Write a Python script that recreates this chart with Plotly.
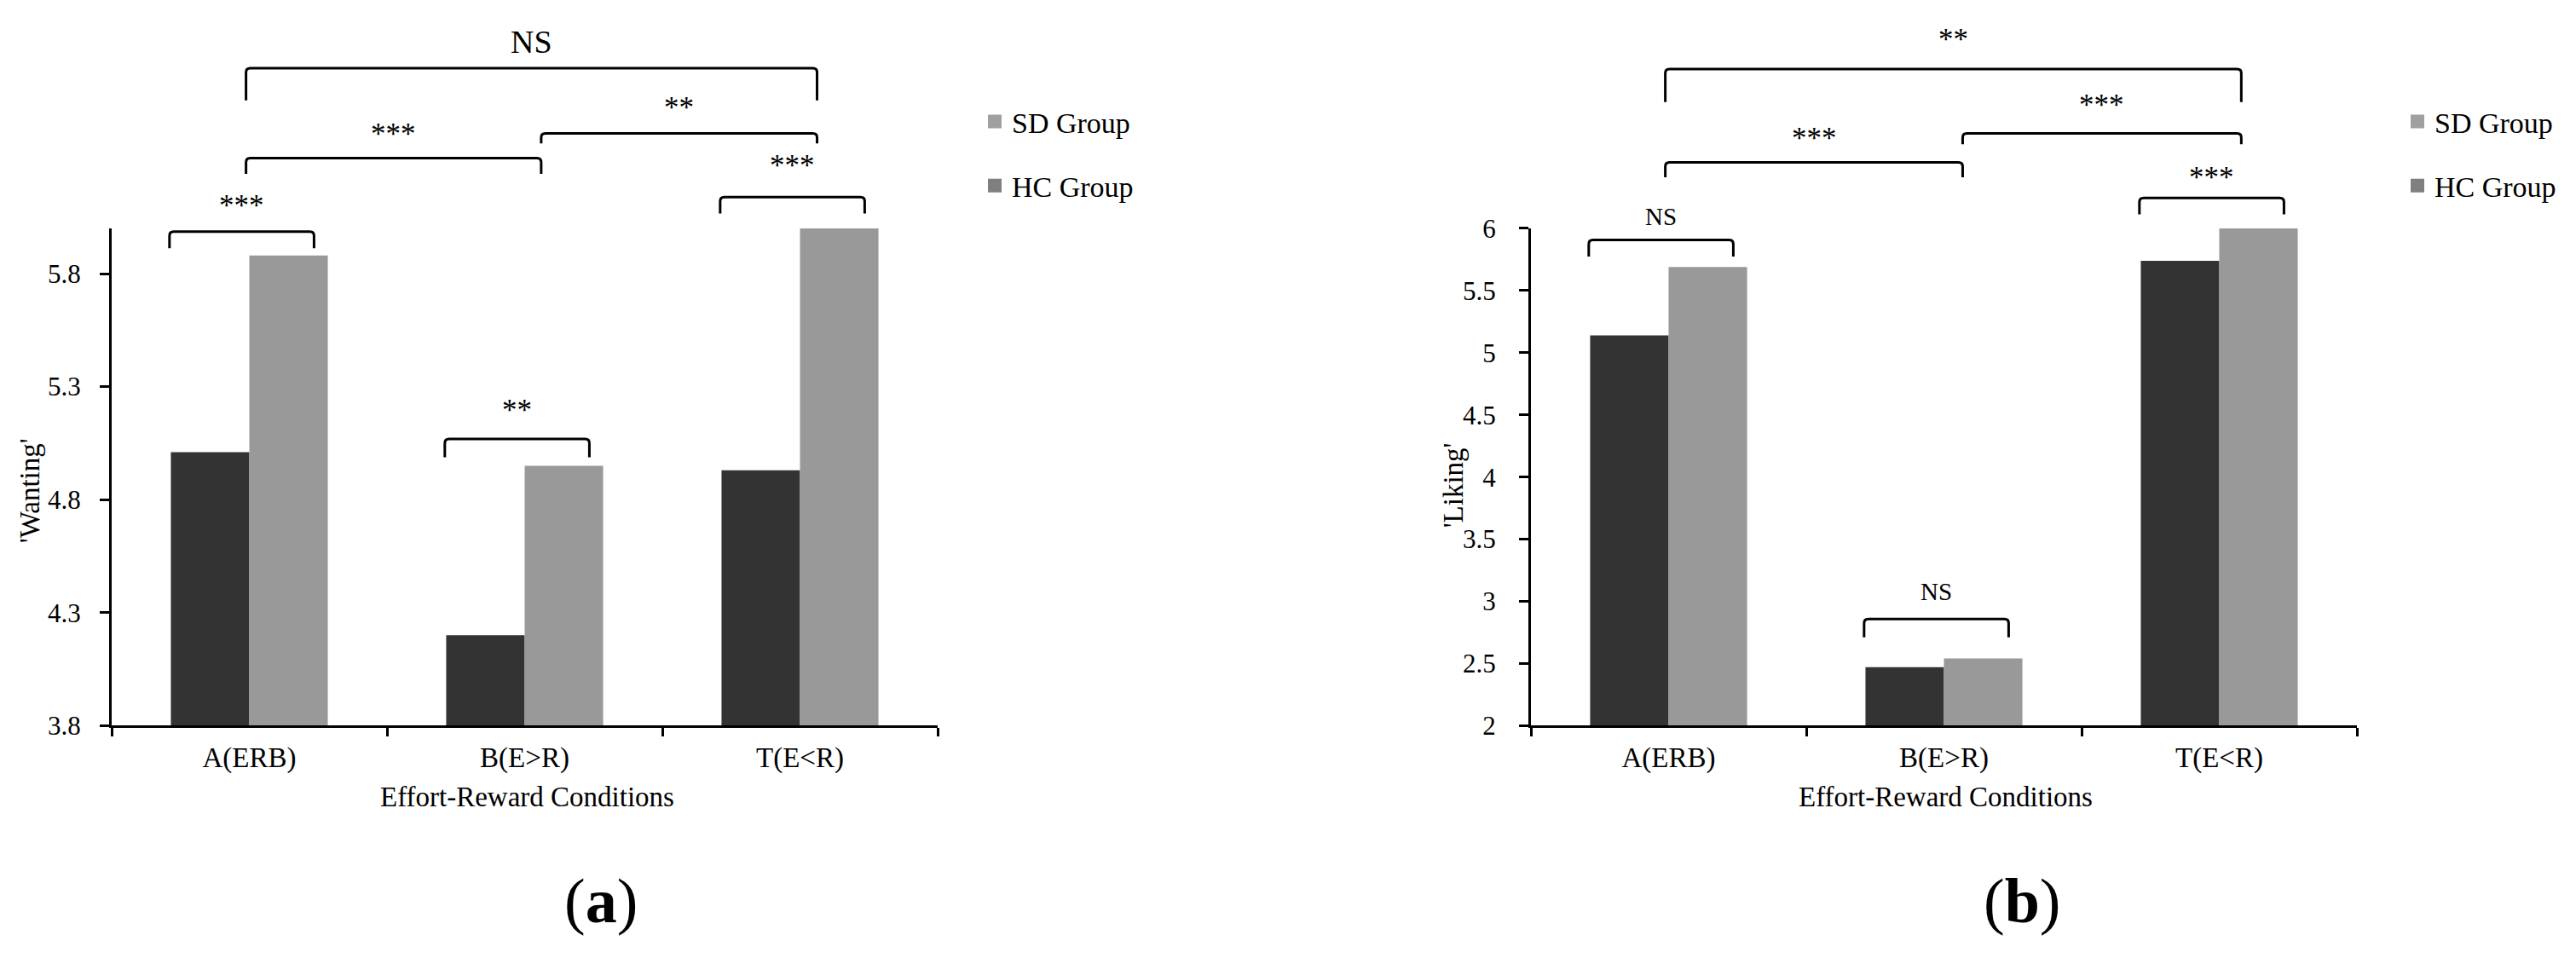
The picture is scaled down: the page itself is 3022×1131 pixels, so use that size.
import plotly.graph_objects as go

W, H = 3022, 1131

# data
conditions = ["A(ERB)", "B(E>R)", "T(E<R)"]
wanting_hc = [5.01, 4.20, 4.93]
wanting_sd = [5.88, 4.95, 6.00]
liking_hc = [5.14, 2.47, 5.74]
liking_sd = [5.69, 2.54, 6.00]
groups = ["SD Group", "HC Group"]

# significance marks: within-condition pairs A, B, T, then A-B, B-T, A-T
wanting_sig = ["***", "**", "***", "***", "**", "NS"]
liking_sig = ["NS", "NS", "***", "***", "***", "**"]

FONT = "Liberation Serif, Times New Roman, serif"
HC_COLOR = "#333333"
SD_COLOR = "#999999"
LEGEND_COLORS = {"SD Group": "#a0a0a0", "HC Group": "#7f7f7f"}


def fx(p):
    return p / W


def fy(p):
    return 1 - p / H


fig = go.Figure()

panels = [
    ("x", "y", wanting_hc, wanting_sd, "legend"),
    ("x2", "y2", liking_hc, liking_sd, "legend2"),
]
for xa, ya, hc, sd, leg in panels:
    fig.add_trace(go.Bar(x=conditions, y=hc, name="HC Group", marker_color=HC_COLOR,
                         marker_line_width=0, xaxis=xa, yaxis=ya, showlegend=False))
    fig.add_trace(go.Bar(x=conditions, y=sd, name="SD Group", marker_color=SD_COLOR,
                         marker_line_width=0, xaxis=xa, yaxis=ya, showlegend=False))
    # legend swatches (the legend uses slightly different greys)
    for g in groups:
        fig.add_trace(go.Scatter(x=[None], y=[None], mode="markers", name=g,
                                 marker=dict(symbol="square", size=16, color=LEGEND_COLORS[g]),
                                 xaxis=xa, yaxis=ya, legend=leg, legendgroup=leg + g))


def bracket(xref, x0, x1, top, bottom, label, label_y, size):
    rx = 5 / 323
    ry = 5 / H
    yt, yb = fy(top), fy(bottom)
    path = (f"M {x0},{yb} L {x0},{yt - ry} Q {x0},{yt} {x0 + rx},{yt} "
            f"L {x1 - rx},{yt} Q {x1},{yt} {x1},{yt - ry} L {x1},{yb}")
    fig.add_shape(type="path", path=path, xref=xref, yref="paper",
                  line=dict(color="black", width=3), layer="above")
    fig.add_annotation(x=(x0 + x1) / 2, y=fy(label_y), xref=xref, yref="paper",
                       text=label, showarrow=False, yanchor="middle",
                       font=dict(size=size, family=FONT, color="black"))


# panel (a)
bracket("x", -0.29, 0.235, 263, 283, wanting_sig[0], 232, 35)
bracket("x", 0.71, 1.235, 514, 536, wanting_sig[1], 479, 35)
bracket("x", 1.71, 2.235, 221, 241, wanting_sig[2], 183, 35)
bracket("x", -0.012, 1.06, 174, 193, wanting_sig[3], 145, 35)
bracket("x", 1.06, 2.062, 144, 156, wanting_sig[4], 113, 35)
bracket("x", -0.012, 2.062, 65, 104, wanting_sig[5], 33, 38)

# panel (b)
bracket("x2", -0.29, 0.235, 273, 293, liking_sig[0], 245, 29)
bracket("x2", 0.71, 1.235, 732, 754, liking_sig[1], 699, 29)
bracket("x2", 1.71, 2.235, 222, 242, liking_sig[2], 198, 35)
bracket("x2", -0.012, 1.068, 179, 197, liking_sig[3], 150, 35)
bracket("x2", 1.068, 2.08, 144, 157, liking_sig[4], 110, 35)
bracket("x2", -0.012, 2.08, 66, 106, liking_sig[5], 30, 35)

tickfont = dict(size=31, family=FONT, color="black")
xaxis_common = dict(showline=True, linecolor="black", linewidth=3, ticks="outside",
                    ticklen=10, tickwidth=3, tickcolor="black", tickson="boundaries",
                    showgrid=False, zeroline=False, range=[-0.5, 2.5],
                    ticklabelstandoff=6,
                    tickfont=dict(size=33, family=FONT, color="black"))
yaxis_common = dict(showline=True, linecolor="black", linewidth=3, ticks="outside",
                    ticklen=11, tickwidth=3, tickcolor="black", showgrid=False,
                    zeroline=False, tickfont=tickfont, dtick=0.5)

fig.update_layout(
    width=W, height=H,
    margin=dict(l=0, r=0, t=0, b=0),
    paper_bgcolor="white", plot_bgcolor="white",
    barmode="group", bargap=0.43, bargroupgap=0,
    font=dict(family=FONT, color="black"),
    xaxis=dict(xaxis_common, domain=[fx(131), fx(1100)], anchor="y"),
    yaxis=dict(yaxis_common, domain=[fy(861), fy(259)], anchor="x",
               range=[3.8, 6.0], tick0=3.8, ticklabelstandoff=16),
    xaxis2=dict(xaxis_common, domain=[fx(1796), fx(2765)], anchor="y2"),
    yaxis2=dict(yaxis_common, domain=[fy(861), fy(259)], anchor="x2",
                range=[2, 6], tick0=2, ticklabelstandoff=21),
    legend=dict(x=fx(1147), y=fy(100), xanchor="left", yanchor="top",
                font=dict(size=34, family=FONT, color="black"),
                tracegroupgap=28, bgcolor="rgba(0,0,0,0)"),
    legend2=dict(x=fx(2816), y=fy(100), xanchor="left", yanchor="top",
                 font=dict(size=34, family=FONT, color="black"),
                 tracegroupgap=28, bgcolor="rgba(0,0,0,0)"),
)

# axis titles and panel letters
for x, y, text, angle in [(35, 577, "'Wanting'", -90), (1705, 570, "'Liking'", -90),
                          (618, 947, "Effort-Reward Conditions", 0),
                          (2282, 947, "Effort-Reward Conditions", 0)]:
    fig.add_annotation(x=fx(x), y=fy(y), xref="paper", yref="paper", text=text,
                       textangle=angle, showarrow=False, xanchor="center", yanchor="middle",
                       font=dict(size=33, family=FONT, color="black"))

for x, letter in [(705, "a"), (2372, "b")]:
    fig.add_annotation(x=fx(x), y=fy(1073), xref="paper", yref="paper",
                       text=f"(<b>{letter}</b>)", showarrow=False,
                       xanchor="center", yanchor="middle",
                       font=dict(size=74, family=FONT, color="black"))

# keep the figure flush with the page corner, no toolbar
fig.write_html("out.html", config={"displayModeBar": False},
               post_script="document.body.style.margin='0';")
